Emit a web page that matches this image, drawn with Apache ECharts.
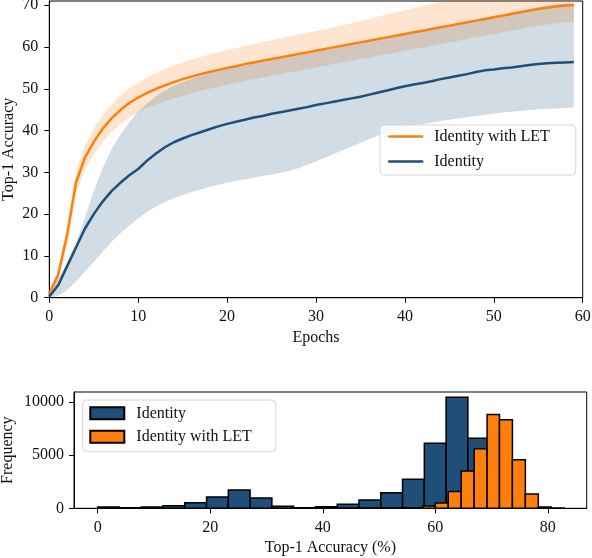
<!DOCTYPE html>
<html>
<head>
<meta charset="utf-8">
<script src="https://cdn.jsdelivr.net/npm/echarts@6/dist/echarts.min.js"></script>
<style>
html, body { margin: 0; padding: 0; background: #fff; }
#main { width: 592px; height: 558px; }
</style>
</head>
<body>
<div id="main"></div>
<script>
// top panel: accuracy per epoch, mean and band
var epochs = [0,1,2,3,4,5,6,7,8,9,10,11,12,13,14,15,16,17,18,19,20,21,22,23,24,25,26,27,28,29,
              30,31,32,33,34,35,36,37,38,39,40,41,42,43,44,45,46,47,48,49,50,51,52,53,54,55,56,57,58,59];
var letMean = [1.0,5.5,15.0,27.5,33.5,37.3,40.4,42.9,44.9,46.6,47.9,49.0,50.0,50.8,51.6,52.3,52.9,53.5,54.0,54.5,
               55.0,55.4,55.9,56.3,56.7,57.1,57.5,57.9,58.3,58.7,59.1,59.5,59.9,60.3,60.7,61.1,61.5,61.9,62.3,62.7,
               63.1,63.5,63.9,64.3,64.7,65.1,65.5,65.9,66.3,66.7,67.1,67.5,67.9,68.3,68.7,69.1,69.4,69.7,69.9,70.0];
var letUpper = [1.8,7.0,17.2,30.3,36.5,40.4,43.6,46.2,48.3,50.1,51.5,52.7,53.8,54.7,55.6,56.3,57.0,57.6,58.2,58.7,
                59.3,59.7,60.3,60.7,61.2,61.6,62.1,62.5,63.0,63.4,63.8,64.3,64.8,65.2,65.7,66.2,66.7,67.3,67.8,68.3,
                68.8,69.3,69.8,70.3,70.8,71.3,71.8,72.3,72.8,73.2,73.6,74.0,74.5,74.9,75.3,75.8,76.1,76.5,76.8,77.0];
var letLower = [0.2,4.0,12.8,24.7,30.5,34.2,37.2,39.6,41.5,43.1,44.3,45.4,46.3,47.0,47.7,48.3,48.9,49.5,50.0,50.5,
                51.0,51.4,51.9,52.3,52.7,53.1,53.5,53.9,54.3,54.7,55.1,55.5,55.9,56.3,56.7,57.1,57.5,57.9,58.3,58.7,
                59.1,59.5,59.9,60.3,60.7,61.1,61.5,61.9,62.3,62.7,63.1,63.5,63.9,64.3,64.7,65.1,65.4,65.7,65.9,66.0];
var idMean = [0.3,3.0,7.5,12.0,16.5,20.0,23.0,25.5,27.5,29.3,30.8,32.8,34.5,36.0,37.2,38.1,38.9,39.6,40.3,41.0,
              41.6,42.1,42.6,43.1,43.5,44.0,44.4,44.8,45.2,45.6,46.1,46.5,46.9,47.3,47.7,48.1,48.6,49.1,49.6,50.1,
              50.6,51.0,51.4,51.8,52.3,52.7,53.1,53.5,54.0,54.4,54.6,54.9,55.1,55.4,55.7,55.9,56.1,56.2,56.3,56.4];
var idUpper = [0.8,4.5,8.5,13.0,19.0,25.5,31.0,35.5,39.0,42.0,44.5,46.5,48.2,49.6,50.7,51.6,52.4,53.1,53.7,54.2,
               54.7,55.2,55.6,56.0,56.4,56.8,57.2,57.6,58.0,58.4,58.8,59.2,59.6,60.0,60.4,60.8,61.2,61.6,62.0,62.4,
               62.9,63.3,63.8,64.2,64.7,65.1,65.6,66.0,66.5,66.9,67.4,67.8,68.3,68.7,69.1,69.5,69.9,70.2,70.4,70.5];
var idLower = [0.0,0.5,1.8,3.8,6.2,8.6,11.0,13.3,15.4,17.3,19.0,20.5,21.8,22.9,23.8,24.6,25.3,25.9,26.5,27.0,
               27.5,27.9,28.3,28.7,29.1,29.5,29.9,30.4,31.0,31.8,32.6,33.5,34.4,35.3,36.2,37.1,38.0,38.8,39.5,40.1,
               40.6,41.1,41.5,41.9,42.3,42.6,42.9,43.2,43.5,43.8,44.0,44.3,44.5,44.7,44.9,45.1,45.2,45.3,45.4,45.5];
var topYTicks = [0,10,20,30,40,50,60,70];

// bottom panel: histograms of final accuracy
var idEdges = [0,3.87,7.74,11.61,15.48,19.35,23.22,27.09,30.96,34.83,38.7,42.57,46.44,50.31,54.18,58.05,61.92,65.79,69.66,73.53,77.4];
var idCounts = [120,40,130,250,530,1065,1725,970,190,50,150,375,780,1470,2730,6130,10450,6600,1160,100];
var letEdges = [37.2,39.5,41.8,44.1,46.3,48.6,50.9,53.2,55.5,57.8,60.0,62.3,64.6,66.9,69.2,71.4,73.7,76.0,78.3,80.6,82.9];
var letCounts = [5,5,10,10,15,20,30,40,60,220,500,1570,3520,5590,8830,8330,4560,1350,125,20];
var histXTicks = [0,20,40,60,80];
var histYTicks = [0,5000,10000];

var BLUE = '#1f4e79';
var ORANGE = '#ff7f0e';
var FONT = 'Liberation Serif';
var TXT = '#111';

function pairs(ys) {
    return epochs.map(function (e, i) { return [e, ys[i]]; });
}
function bins(edges, counts) {
    return counts.map(function (c, i) { return [edges[i], edges[i + 1], c]; });
}
function renderBin(params, api) {
    var a = api.coord([api.value(0), api.value(2)]);
    var b = api.coord([api.value(1), 0]);
    return {
        type: 'rect',
        shape: { x: a[0], y: a[1], width: b[0] - a[0], height: b[1] - a[1] },
        style: api.style({ stroke: '#000', lineWidth: 1.5 })
    };
}
// whole band drawn once as one polygon (upper edge, then lower edge back)
function bandRenderer(upper, lower, fill) {
    return function (params, api) {
        if (params.dataIndex !== 0) return null;
        var pts = [];
        for (var i = 0; i < epochs.length; i++) pts.push(api.coord([epochs[i], upper[i]]));
        for (var j = epochs.length - 1; j >= 0; j--) pts.push(api.coord([epochs[j], lower[j]]));
        return { type: 'polygon', shape: { points: pts }, style: { fill: fill } };
    };
}

var axisCommon = {
    axisLine: { onZero: false, lineStyle: { color: '#000', width: 1 } },
    axisTick: { length: 5, lineStyle: { color: '#000' } },
    splitLine: { show: false },
    nameTextStyle: { fontFamily: FONT, fontSize: 16, color: TXT },
    axisLabel: { fontFamily: FONT, fontSize: 16, color: TXT, formatter: function (v) { return String(v); } }
};
function ax(extra) {
    var o = {};
    for (var k in axisCommon) o[k] = Object.assign({}, axisCommon[k]);
    for (var k2 in extra) {
        if (typeof extra[k2] === 'object' && !Array.isArray(extra[k2]) && o[k2]) {
            Object.assign(o[k2], extra[k2]);
        } else {
            o[k2] = extra[k2];
        }
    }
    return o;
}

var chart = echarts.init(document.getElementById('main'));
var option = {
    animation: false,
    backgroundColor: '#fff',
    grid: [
        { left: 49.3, top: 1, width: 533.4, height: 296.7, show: true, borderColor: '#000', borderWidth: 1,
          outerBoundsMode: 'none', containLabel: false },
        { left: 74, top: 392, width: 512.7, height: 116.3, show: true, borderColor: '#000', borderWidth: 1,
          outerBoundsMode: 'none', containLabel: false }
    ],
    xAxis: [
        ax({ type: 'value', gridIndex: 0, min: 0, max: 60, interval: 10, name: 'Epochs',
             nameLocation: 'middle', nameGap: 31, axisLabel: { margin: 11 } }),
        ax({ type: 'value', gridIndex: 1, min: -4.2, max: 86.9, name: 'Top-1 Accuracy (%)',
             nameLocation: 'middle', nameGap: 31,
             axisTick: { customValues: histXTicks },
             axisLabel: { customValues: histXTicks, margin: 11 } })
    ],
    yAxis: [
        ax({ type: 'value', gridIndex: 0, min: 0, max: 71, name: 'Top-1 Accuracy',
             nameLocation: 'middle', nameRotate: 90, nameGap: 33, nameMoveOverlap: false,
             axisTick: { customValues: topYTicks },
             axisLabel: { customValues: topYTicks, margin: 11 } }),
        ax({ type: 'value', gridIndex: 1, min: 0, max: 10940, name: 'Frequency',
             nameLocation: 'middle', nameRotate: 90, nameGap: 58, nameMoveOverlap: false,
             axisTick: { customValues: histYTicks },
             axisLabel: { customValues: histYTicks, margin: 10 } })
    ],
    legend: [
        {
            data: ['Identity with LET', 'Identity'],
            orient: 'vertical', left: 380, top: 125,
            itemWidth: 35, itemHeight: 16, itemGap: 8,
            padding: [3, 26, 5, 7],
            itemStyle: { opacity: 0 },
            lineStyle: { width: 2.5 },
            backgroundColor: 'rgba(255,255,255,0.8)', borderColor: '#d6d6d6', borderWidth: 1, borderRadius: 4,
            textStyle: { fontFamily: FONT, fontSize: 16, color: TXT, lineHeight: 17, padding: [0, 0, 0, 6] }
        },
        {
            data: ['histIdentity', 'histLET'],
            formatter: function (n) { return n === 'histLET' ? 'Identity with LET' : 'Identity'; },
            orient: 'vertical', left: 82.7, top: 400,
            icon: 'rect', itemWidth: 34, itemHeight: 12, itemGap: 6.4,
            padding: [4.8, 24, 6.5, 6.6],
            backgroundColor: 'rgba(255,255,255,0.8)', borderColor: '#d6d6d6', borderWidth: 1, borderRadius: 4,
            textStyle: { fontFamily: FONT, fontSize: 16, color: TXT, lineHeight: 17, padding: [0, 0, 0, 7] }
        }
    ],
    series: [
        { name: 'letBand', type: 'custom', renderItem: bandRenderer(letUpper, letLower, 'rgba(255,127,14,0.2)'),
          data: pairs(letUpper), silent: true, clip: true, xAxisIndex: 0, yAxisIndex: 0 },
        { name: 'idBand', type: 'custom', renderItem: bandRenderer(idUpper, idLower, 'rgba(31,78,121,0.2)'),
          data: pairs(idUpper), silent: true, clip: true, xAxisIndex: 0, yAxisIndex: 0 },
        { name: 'Identity', type: 'line', data: pairs(idMean), symbol: 'none', color: BLUE,
          lineStyle: { width: 2.5, color: BLUE }, xAxisIndex: 0, yAxisIndex: 0 },
        { name: 'Identity with LET', type: 'line', data: pairs(letMean), symbol: 'none', color: ORANGE,
          lineStyle: { width: 2.5, color: ORANGE }, xAxisIndex: 0, yAxisIndex: 0 },
        { name: 'histIdentity', type: 'custom', renderItem: renderBin, data: bins(idEdges, idCounts),
          encode: { x: [0, 1], y: 2 }, itemStyle: { color: BLUE, borderColor: '#000', borderWidth: 1.5 },
          clip: true, xAxisIndex: 1, yAxisIndex: 1 },
        { name: 'histLET', type: 'custom', renderItem: renderBin, data: bins(letEdges, letCounts),
          encode: { x: [0, 1], y: 2 }, itemStyle: { color: ORANGE, borderColor: '#000', borderWidth: 1.5 },
          clip: true, xAxisIndex: 1, yAxisIndex: 1 }
    ]
};
chart.setOption(option);
</script>
</body>
</html>
